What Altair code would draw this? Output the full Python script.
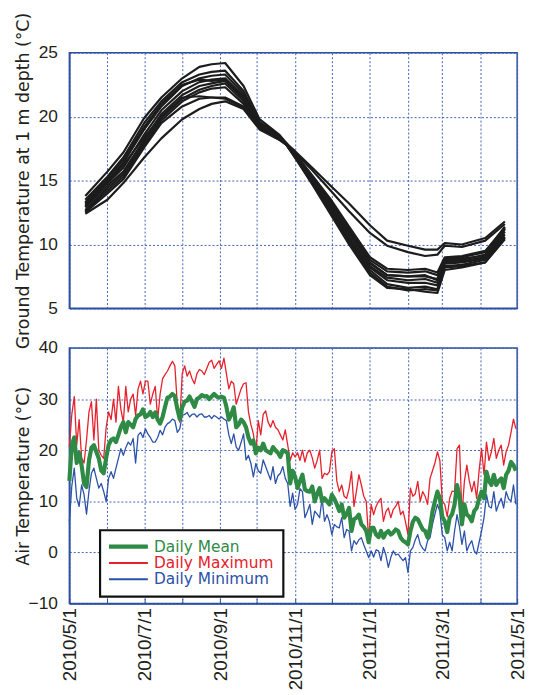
import altair as alt
import pandas as pd

# ---------------- Ground temperature at 1 m depth (several probes) ----------------
ground_dates = ["2010-05-14", "2010-06-01", "2010-06-14", "2010-07-01", "2010-07-15", "2010-08-01",
                "2010-08-15", "2010-08-25", "2010-09-05", "2010-09-20", "2010-10-03", "2010-10-19",
                "2010-10-25", "2010-11-01", "2010-11-15", "2010-12-01", "2010-12-15", "2011-01-01",
                "2011-01-15", "2011-02-01", "2011-02-15", "2011-02-25", "2011-03-03", "2011-03-17",
                "2011-04-05", "2011-04-21"]

g1 = [13.8, 15.7, 17.2, 19.9, 21.5, 23.0, 23.9, 24.1, 24.2, 22.4, 19.8, 18.6, 17.9, 17.0, 15.1, 13.0, 11.0, 8.6, 7.6, 7.5, 7.6, 7.2, 8.7, 8.8, 9.2, 11.2]
g2 = [13.5, 15.3, 16.8, 19.5, 21.2, 22.7, 23.3, 23.5, 23.6, 22.0, 19.6, 18.5, 17.9, 17.1, 15.3, 13.2, 11.2, 8.8, 7.9, 7.8, 7.9, 7.6, 8.9, 9.0, 9.4, 11.4]
g3 = [13.2, 15.0, 16.4, 19.0, 20.8, 22.4, 23.0, 23.2, 23.3, 21.8, 19.5, 18.5, 17.9, 17.3, 16.0, 14.5, 13.2, 11.5, 10.3, 9.9, 9.6, 9.6, 10.1, 10.0, 10.5, 11.8]
g4 = [13.0, 14.8, 16.0, 18.6, 20.5, 22.0, 22.7, 22.9, 23.0, 21.6, 19.4, 18.4, 17.9, 17.2, 15.8, 14.1, 12.6, 10.9, 9.9, 9.4, 9.1, 9.2, 9.9, 9.8, 10.3, 11.6]
g5 = [12.9, 14.6, 15.7, 18.2, 20.2, 21.7, 22.4, 22.6, 22.8, 21.4, 19.3, 18.4, 17.9, 17.0, 15.0, 12.8, 10.6, 8.2, 7.2, 7.0, 7.0, 6.8, 8.5, 8.6, 8.9, 10.8]
g6 = [12.7, 14.4, 15.5, 18.0, 19.9, 21.4, 22.1, 22.4, 22.6, 21.2, 19.2, 18.3, 17.8, 16.9, 14.9, 12.6, 10.4, 8.0, 6.9, 6.6, 6.7, 6.5, 8.3, 8.4, 8.8, 10.6]
g7 = [12.6, 14.2, 15.3, 17.8, 19.7, 21.2, 21.9, 22.2, 22.3, 21.0, 19.1, 18.3, 17.8, 16.8, 14.8, 12.4, 10.2, 7.8, 6.7, 6.4, 6.5, 6.4, 8.2, 8.3, 8.6, 10.5]
g8 = [12.5, 14.0, 15.1, 17.6, 19.5, 20.8, 21.4, 21.5, 21.5, 20.8, 19.1, 18.2, 17.8, 16.9, 15.0, 12.7, 10.5, 8.3, 7.4, 7.2, 7.3, 7.0, 8.6, 8.7, 9.0, 11.0]
g9 = [12.4, 13.5, 14.8, 16.8, 18.3, 19.8, 20.6, 21.0, 21.2, 20.6, 19.0, 18.2, 17.8, 17.0, 15.2, 13.0, 10.8, 8.5, 7.6, 7.5, 7.5, 7.3, 8.8, 8.9, 9.1, 11.2]
g10 = [13.1, 14.9, 16.2, 18.4, 20.0, 21.5, 21.6, 21.5, 21.4, 20.7, 19.2, 18.3, 17.8, 16.8, 14.7, 12.2, 10.0, 7.6, 6.6, 6.5, 6.3, 6.2, 8.0, 8.2, 8.6, 10.4]
g11 = [13.3, 15.2, 16.6, 19.2, 21.0, 22.5, 22.9, 22.8, 22.9, 21.5, 19.4, 18.4, 17.9, 17.1, 15.4, 13.4, 11.4, 9.0, 8.1, 8.0, 8.1, 7.8, 9.0, 9.1, 9.5, 11.3]
ground_lines = [g1, g2, g3, g4, g5, g6, g7, g8, g9, g10, g11]

# ---------------- Air temperature (every second day from 2010/5/1) ----------------
tmax = ([20.6, 27, 30.5, 21, 26, 18.5, 17.5, 22, 27.5, 29.5, 22, 30, 20, 19, 18.4, 24.5, 27.5, 26, 30, 25.5,
         32.5, 28, 25.5, 32.5, 27.5, 30, 31, 26.8, 32, 33.5, 31, 33.5]
        + [33.5, 29, 31, 32.5, 26, 31, 34, 34.8, 35.5, 36.5, 37.4, 36.5, 29, 25.5, 35, 36.5, 34.5, 35.5, 34, 33,
           35, 35.8, 35.5, 34.8, 36, 37.2, 37.6, 36, 36.8, 37.5]
        + [36, 38, 35, 32, 33.5, 33, 29, 30.5, 32, 33, 33.2, 27.5, 25, 23.2, 19.5, 25.8, 23, 27, 27.7, 25.5,
           24.5, 25.8, 24.5, 24, 23, 22, 24, 21, 18, 19.5, 18.7]
        + [19.5, 18, 20, 17.7, 19.5, 20, 18.5, 16.5, 18, 20, 14.5, 15.5, 15.2, 15.8, 19.7, 20.3, 14, 11.9, 13.2, 11,
           10.6, 12.5, 15.8, 9, 12, 15.2, 13.2, 11, 10, 2.5, 9.4]
        + [7.4, 9, 10, 10.6, 6.1, 8, 8.7, 6.8, 8.4, 9, 10, 7.4, 8.1, 6, 3.5, 12.6, 11, 11.5, 13.9, 10,
           11.9, 11, 9.4, 14.5, 16, 17.5, 19.7, 18, 10, 9.4, 7]
        + [10.6, 12, 11.9, 20.3, 21, 7.4, 13.9, 17.1, 14, 11.9, 13.9, 10.6, 16, 20.3, 15.2, 21.6, 18, 19.7, 22.3, 18.4,
           20, 21, 17.1, 19.7, 21, 23.5, 26.1, 24.2])

tmean = ([14, 21, 22.5, 17.5, 19.5, 17, 13.5, 12.8, 18, 20.5, 21, 19.7, 18.4, 16, 15.5, 18.5, 21, 22, 22.3, 21.6,
          23, 24.5, 25.5, 23.5, 25.5, 25, 24.5, 26.1, 26.8, 27, 28, 26.5]
         + [26.8, 27.5, 26.5, 27.4, 26, 25.2, 26.5, 28.5, 30.3, 30.5, 31, 30.6, 28.1, 26.1, 28.4, 29.5, 29.7, 30.5, 29.5, 28.5,
            30, 30.3, 30.8, 30.5, 30.6, 30, 30.5, 31, 30.5, 30.3]
         + [30.5, 30.3, 28.5, 26, 27, 28.4, 24.5, 25, 26, 25.5, 24.5, 22.5, 21.3, 21.9, 19.4, 20.5, 20, 21.3, 20, 19.7,
            19.4, 20.6, 20, 19.5, 18.7, 20, 19.8, 19.4, 13.5, 16, 14.8]
         + [12.6, 14, 15.2, 12.3, 12, 11.9, 12.9, 10, 11.5, 12.6, 10, 10.6, 10, 9.4, 11.3, 10.5, 9.4, 8.1, 9.4, 6.8,
            7.5, 8.7, 4.2, 6.5, 6.8, 7.4, 5.5, 5, 4.2, 2, 4.8]
         + [4.8, 3.5, 3, 4.2, 2.9, 3.8, 4.2, 3.5, 3.9, 4.5, 4.2, 2.9, 2.3, 2, 1.6, 4.2, 6, 6.8, 6.5, 5.5,
            4.5, 4.2, 2.9, 4.8, 8, 10, 11.9, 10.6, 7, 6.1, 4]
         + [6.8, 7.5, 9.4, 13.2, 11, 5.5, 9.4, 7.4, 7, 6.1, 8.1, 8.7, 10.5, 11.9, 10.6, 15.8, 14, 13.2, 15.2, 13.2,
            14, 14.5, 12.6, 15.2, 16, 17.7, 17.1, 16])

tmin = ([6, 13, 16.5, 10.6, 9, 13.2, 11.3, 7.5, 12, 15.5, 16.5, 14.5, 12.6, 13.5, 11.9, 10, 14.5, 15.8, 14.5, 16.5,
         18.4, 20.3, 19, 20.5, 21.6, 21, 22.3, 17.5, 22.9, 23.5, 22.5, 24.2]
        + [23.2, 22.5, 21.6, 21.6, 22.5, 23.9, 23, 24.5, 25.2, 25.5, 26.1, 25.8, 23.5, 24.2, 26.8, 27, 27.4, 26.5, 27, 27.1,
           26.5, 27, 27.1, 26.5, 26.5, 26.8, 26.2, 26.8, 26.5, 26.1]
        + [26.5, 26.1, 25.8, 23, 21.3, 23.2, 20.6, 20, 21.5, 23.2, 18.1, 19, 17.4, 14.8, 17.4, 16, 15.5, 18.1, 16.8, 15.5,
           14.2, 16.8, 13.5, 15, 15.5, 16.8, 14.5, 13.5, 9, 11.6, 8.4]
        + [9.4, 12.5, 11.9, 6.8, 8, 9.4, 5.5, 8.1, 7.5, 6.8, 10.6, 6.1, 7.4, 6, 3.5, 5.5, 5, 4.8, 6.8, 2.9,
           4.5, 4.2, 0.3, 2.3, 1.6, 2.5, 2.9, 1.5, 0.3, -1, 0.3]
        + [-0.9, 0.5, 0.3, -1.6, 1, -0.5, -2.9, -1, 0.3, -0.5, -0.3, -1, -1.6, -1, -3.9, 0.3, 1, 2.5, 3.5, 1.6,
           0.8, 0.3, 2.3, 2.9, 5.5, 7.5, 9.4, 8.0, 3.5, 2.9, 0.3]
        + [2, 0.3, 4.2, 7.4, 5, 1.6, 4.2, 0.3, 1.5, 2.3, 0.3, -0.3, 2, 4.2, 6.8, 11.3, 9, 8.7, 11.9, 8.1,
           9.5, 10.6, 8.7, 11.9, 10.5, 10, 13.2, 9.4])

series_names = ["Daily Mean", "Daily Maximum", "Daily Minimum"]
series_colors = ["#2f8a45", "#e6212b", "#2b51a8"]

month_ticks = [("2010", 5), ("2010", 6), ("2010", 7), ("2010", 8), ("2010", 9), ("2010", 10), ("2010", 11),
               ("2010", 12), ("2011", 1), ("2011", 2), ("2011", 3), ("2011", 4), ("2011", 5)]

# ---------------- tables ----------------
g_rows = []
for i, vals in enumerate(ground_lines):
    for d, v in zip(ground_dates, vals):
        g_rows.append({"date": pd.Timestamp(d), "temp": v, "probe": "P%d" % (i + 1)})
ground_df = pd.DataFrame(g_rows)

air_dates = pd.date_range("2010-05-01", periods=183, freq="2D")


def air_frame(vals, name):
    n = min(len(vals), len(air_dates))
    return pd.DataFrame({"date": air_dates[:n], "temp": vals[:n], "series": name})


mean_df = air_frame(tmean, series_names[0])
max_df = air_frame(tmax, series_names[1])
min_df = air_frame(tmin, series_names[2])

# ---------------- styling ----------------
BLUE = "#2d4fa1"
GRID = "#4163b5"
TXT = "#231f20"
PANEL_W, PANEL_H, GAP = 452, 258, 40

month_values = [alt.DateTime(year=int(y), month=m, date=1) for y, m in month_ticks]
x_scale = alt.Scale(domain=[month_values[0], month_values[-1]])
label_expr = "month(datum.value) % 2 == 0 ? timeFormat(datum.value, '%Y/%-m/%-d') : ''"

top_x_axis = alt.Axis(values=month_values, labels=False, ticks=False, title=None, grid=True)
bottom_x_axis = alt.Axis(values=month_values, labelExpr=label_expr, labelAngle=270,
                         labelFontSize=19, labelPadding=9, tickSize={"expr": "-5"},
                         tickColor=BLUE, tickWidth=1, title=None, grid=True, labelOverlap=False)

top_y_axis = alt.Axis(values=[5, 10, 15, 20, 25], title="Ground Temperature at 1 m depth (°C)",
                      titleX=-46, titleY=PANEL_H / 2, titleAngle=270, titleAlign="center",
                      titleBaseline="middle", ticks=False, labelPadding=12)
bottom_y_axis = alt.Axis(values=[-10, 0, 10, 20, 30, 40], title="Air Temperature (°C)",
                         titleX=-46, titleY=PANEL_H / 2, titleAngle=270, titleAlign="center",
                         titleBaseline="middle", ticks=False, labelPadding=12)

color_expr = ("datum.value === 'Daily Mean' ? '%s' : (datum.value === 'Daily Maximum' ? '%s' : '%s')"
              % tuple(series_colors))
legend = alt.Legend(
    title=None, orient="none", legendX=31, legendY=PANEL_H + GAP + 184,
    symbolType="stroke", symbolSize=1600, clipHeight=15, rowPadding=0.5,
    symbolOffset=11.5, labelOffset=18.5,
    padding=9, strokeColor="#111111", fillColor="white",
    labelFont="DejaVu Sans", labelFontSize=15.5, labelLimit=0,
    labelColor={"expr": color_expr},
    symbolStrokeWidth={"expr": "datum.value === 'Daily Mean' ? 4.5 : 2"},
)
color_enc = alt.Color("series:N", scale=alt.Scale(domain=series_names, range=series_colors), legend=legend)

# ---------------- charts ----------------
top = alt.Chart(ground_df).mark_line(color="#1c1c1c", strokeWidth=2.2, strokeJoin="round").encode(
    x=alt.X("date:T", scale=x_scale, axis=top_x_axis),
    y=alt.Y("temp:Q", scale=alt.Scale(domain=[5, 25], nice=False), axis=top_y_axis),
    detail="probe:N",
).properties(width=PANEL_W, height=PANEL_H)


def air_layer(df, width):
    return alt.Chart(df).mark_line(strokeWidth=width, strokeJoin="round").encode(
        x=alt.X("date:T", scale=x_scale, axis=bottom_x_axis),
        y=alt.Y("temp:Q", scale=alt.Scale(domain=[-10, 40], nice=False), axis=bottom_y_axis),
        color=color_enc,
    )


bottom = alt.layer(air_layer(min_df, 1.3), air_layer(max_df, 1.3), air_layer(mean_df, 4.2)).properties(
    width=PANEL_W, height=PANEL_H)

chart = alt.vconcat(top, bottom, spacing=GAP).properties(
    bounds="flush",
    padding={"left": 14, "top": 8, "right": 5, "bottom": 0},
).configure_view(
    stroke=BLUE, strokeWidth=1.5
).configure_axis(
    gridColor=GRID, gridDash=[2, 2], gridWidth=1, gridOpacity=1,
    domainColor=BLUE, domainWidth=1.5,
    labelColor=TXT, titleColor=TXT,
    labelFont="Liberation Sans", labelFontSize=17.5,
    titleFont="DejaVu Sans", titleFontSize=17.5, titleFontWeight="normal",
).configure_legend(
    strokeWidth=2.2
)

chart.save("out.html", embed_options={"renderer": "svg", "actions": False})
